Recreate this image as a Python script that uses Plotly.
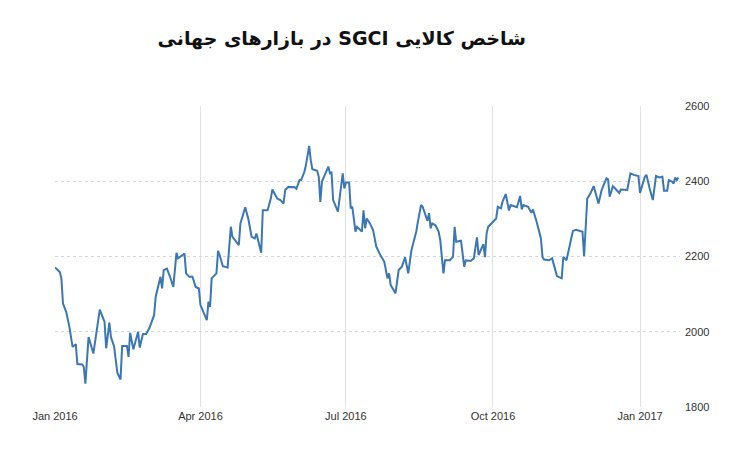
import plotly.graph_objects as go

title_text = "شاخص کالایی SGCI در بازارهای جهانی"

dates = [
    "2016-01-01", "2016-01-04", "2016-01-05", "2016-01-06", "2016-01-08", "2016-01-10",
    "2016-01-12", "2016-01-14", "2016-01-15", "2016-01-18", "2016-01-19", "2016-01-20",
    "2016-01-22", "2016-01-25", "2016-01-29", "2016-02-01", "2016-02-02", "2016-02-04",
    "2016-02-05", "2016-02-07", "2016-02-09", "2016-02-11", "2016-02-12", "2016-02-15",
    "2016-02-16", "2016-02-17", "2016-02-19", "2016-02-22", "2016-02-23", "2016-02-25",
    "2016-02-27", "2016-02-29", "2016-03-03", "2016-03-04", "2016-03-07", "2016-03-08",
    "2016-03-09", "2016-03-11", "2016-03-13", "2016-03-15", "2016-03-17", "2016-03-18",
    "2016-03-22", "2016-03-23", "2016-03-25", "2016-03-27", "2016-03-29", "2016-03-31",
    "2016-04-01", "2016-04-05", "2016-04-06", "2016-04-07", "2016-04-08", "2016-04-11",
    "2016-04-12", "2016-04-13", "2016-04-15", "2016-04-18", "2016-04-20", "2016-04-21",
    "2016-04-25", "2016-04-26", "2016-04-29", "2016-05-01", "2016-05-03", "2016-05-05",
    "2016-05-06", "2016-05-09", "2016-05-10", "2016-05-13", "2016-05-15", "2016-05-16",
    "2016-05-19", "2016-05-21", "2016-05-23", "2016-05-24", "2016-05-26", "2016-05-30",
    "2016-05-31", "2016-06-02", "2016-06-03", "2016-06-05", "2016-06-06", "2016-06-08",
    "2016-06-09", "2016-06-10", "2016-06-13", "2016-06-14", "2016-06-15", "2016-06-16",
    "2016-06-20", "2016-06-21", "2016-06-22", "2016-06-23", "2016-06-26", "2016-06-29",
    "2016-06-30", "2016-07-01", "2016-07-03", "2016-07-04", "2016-07-05", "2016-07-07",
    "2016-07-08", "2016-07-11", "2016-07-12", "2016-07-13", "2016-07-14", "2016-07-16",
    "2016-07-18", "2016-07-19", "2016-07-20", "2016-07-22", "2016-07-24", "2016-07-25",
    "2016-07-27", "2016-07-28", "2016-07-29", "2016-08-01", "2016-08-03", "2016-08-05",
    "2016-08-07", "2016-08-09", "2016-08-11", "2016-08-14", "2016-08-15", "2016-08-17",
    "2016-08-18", "2016-08-20", "2016-08-21", "2016-08-22", "2016-08-23", "2016-08-24",
    "2016-08-26", "2016-08-28", "2016-08-29", "2016-08-31", "2016-09-01", "2016-09-04",
    "2016-09-06", "2016-09-07", "2016-09-08", "2016-09-11", "2016-09-13", "2016-09-14",
    "2016-09-17", "2016-09-19", "2016-09-21", "2016-09-22", "2016-09-25", "2016-09-26",
    "2016-09-27", "2016-09-28", "2016-10-01", "2016-10-03", "2016-10-04", "2016-10-06",
    "2016-10-07", "2016-10-09", "2016-10-11", "2016-10-12", "2016-10-16", "2016-10-18",
    "2016-10-19", "2016-10-20", "2016-10-23", "2016-10-25", "2016-10-26", "2016-10-28",
    "2016-10-31", "2016-11-01", "2016-11-02", "2016-11-05", "2016-11-07", "2016-11-10",
    "2016-11-13", "2016-11-14", "2016-11-16", "2016-11-20", "2016-11-22", "2016-11-26",
    "2016-11-27", "2016-11-29", "2016-12-01", "2016-12-03", "2016-12-06", "2016-12-08",
    "2016-12-11", "2016-12-12", "2016-12-13", "2016-12-15", "2016-12-17", "2016-12-19",
    "2016-12-20", "2016-12-24", "2016-12-26", "2016-12-28", "2016-12-31", "2017-01-01",
    "2017-01-04", "2017-01-05", "2017-01-07", "2017-01-09", "2017-01-11", "2017-01-13",
    "2017-01-15", "2017-01-16", "2017-01-18", "2017-01-19", "2017-01-21", "2017-01-22",
    "2017-01-23", "2017-01-24", "2017-01-25",
]

values = [
    2171, 2159, 2142, 2075, 2053, 2013,
    1960, 1967, 1914, 1913, 1907, 1862,
    1986, 1942, 2059, 2026, 1956, 2024,
    1986, 1960, 1891, 1873, 1962, 1962,
    1933, 1997, 1953, 2000, 1958, 1994,
    1994, 2009, 2044, 2093, 2146, 2115,
    2164, 2168, 2146, 2119, 2210, 2195,
    2208, 2155, 2146, 2146, 2119, 2115,
    2071, 2031, 2080, 2066, 2142, 2155,
    2215, 2204, 2174, 2171, 2279, 2252,
    2230, 2288, 2331, 2299, 2252, 2248,
    2261, 2210, 2323, 2323, 2354, 2378,
    2354, 2350, 2341, 2377, 2385, 2384,
    2380, 2403, 2403, 2425, 2443, 2494,
    2456, 2432, 2428, 2412, 2345, 2399,
    2439, 2421, 2423, 2350, 2319, 2421,
    2381, 2397, 2397, 2328, 2332, 2266,
    2279, 2266, 2323, 2275, 2301, 2288,
    2270, 2252, 2226, 2208, 2195, 2186,
    2142, 2155, 2124, 2102, 2164, 2173,
    2198, 2155, 2217, 2266, 2292, 2337,
    2332, 2306, 2295, 2315, 2275, 2288,
    2283, 2266, 2244, 2155, 2190, 2190,
    2199, 2279, 2239, 2242, 2173, 2190,
    2188, 2195, 2251, 2204, 2233, 2198,
    2261, 2279, 2292, 2301, 2332, 2328,
    2346, 2366, 2322, 2337, 2331, 2361,
    2325, 2337, 2332, 2316, 2325, 2297,
    2248, 2198, 2192, 2190, 2195, 2148,
    2142, 2199, 2190, 2268, 2271, 2266,
    2201, 2354, 2368, 2387, 2341, 2377,
    2408, 2405, 2359, 2387, 2378, 2369,
    2378, 2377, 2421, 2417, 2414, 2369,
    2412, 2417, 2381, 2350, 2414, 2410,
    2412, 2375, 2375, 2403, 2399, 2394,
    2410, 2403, 2410,
]

x_tick_vals = ["2016-01-01", "2016-04-01", "2016-07-01", "2016-10-01", "2017-01-01"]
x_tick_text = ["Jan 2016", "Apr 2016", "Jul 2016", "Oct 2016", "Jan 2017"]
y_tick_vals = [1800, 2000, 2200, 2400, 2600]

# right-to-left embedding so the Persian title reads in its natural order
display_title = "\u202b" + title_text + "\u202c"

fig = go.Figure()
fig.add_trace(go.Scatter(
    x=dates, y=values, mode="lines",
    line=dict(color="#3a77b3", width=2),
    hoverinfo="skip",
))

fig.update_layout(
    width=750, height=456,
    margin=dict(l=47, r=78, t=98, b=57),
    paper_bgcolor="white", plot_bgcolor="white",
    showlegend=False,
    title=dict(
        text="<b>" + display_title + "</b>",
        x=0.445, xanchor="center", y=0.934, yanchor="middle",
        font=dict(family="DejaVu Sans", size=19, color="#111111"),
    ),
    font=dict(family="Liberation Sans", size=11, color="#333333"),
)

fig.update_xaxes(
    type="date",
    range=["2016-01-01", "2017-01-26"],
    tickvals=x_tick_vals, ticktext=x_tick_text,
    showgrid=True, gridcolor="#e0e0e0", gridwidth=1,
    showline=False, zeroline=False,
    ticks="", ticklabelstandoff=1,
    tickfont=dict(family="Liberation Sans", size=11, color="#333333"),
)

fig.update_yaxes(
    range=[1800, 2600],
    side="right",
    tickvals=y_tick_vals,
    showgrid=True, gridcolor="#d6d6d6", griddash="dot", gridwidth=1,
    showline=False, zeroline=False,
    ticks="", ticklabelstandoff=4,
    tickfont=dict(family="Liberation Sans", size=11, color="#333333"),
)

fig.write_html("out.html")
